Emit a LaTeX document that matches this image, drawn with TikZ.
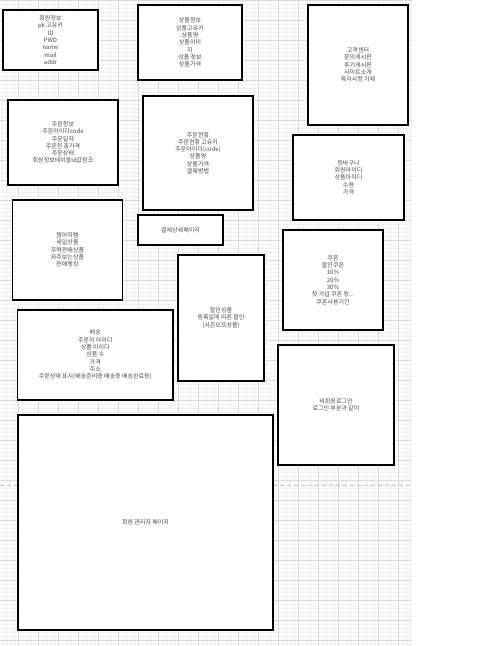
\documentclass[tikz,border=0pt]{standalone}
\usepackage{fontspec}
\setmainfont{Noto Sans CJK KR}
\definecolor{txt}{HTML}{4A4A4A}
\definecolor{gmajor}{HTML}{DADADA}
\definecolor{gminor}{HTML}{F0F0F0}
\definecolor{dashc}{HTML}{C8C8C8}
\tikzset{
  box/.style={draw=black, line width=1.1pt, fill=white, align=center, inner sep=0pt, text=txt, font=\fontsize{6}{7.3}\selectfont},
  minorline/.style={draw=gminor, line width=0.5pt},
  majorline/.style={draw=gmajor, line width=0.7pt},
  pagebreak/.style={draw=dashc, line width=0.8pt, dash pattern=on 4pt off 3pt}
}
\begin{document}
\begin{tikzpicture}[x=1pt,y=-1pt]
\useasboundingbox (0,0) rectangle (487,646);
\fill[white] (0,0) rectangle (487,646);
% grid
\foreach \x in {2,6,...,410} \draw[minorline] (\x,0) -- (\x,646);
\foreach \y in {0,4,...,644} \draw[minorline] (0,\y) -- (412,\y);
\foreach \x in {18,38,...,398} \draw[majorline] (\x,0) -- (\x,646);
\foreach \y in {0,20,...,640} \draw[majorline] (0,\y) -- (412,\y);
\draw[pagebreak] (0,485) -- (412,485);
% boxes
\node[box, minimum width=95pt, minimum height=60pt] (member) at (50.5,40) {회원정보\\pk 고유키\\ID\\PWD\\name\\mail\\addr};
\node[box, minimum width=104pt, minimum height=75pt] (product) at (190,42.5) {상품정보\\상품고유키\\상품명\\상품이미\\지\\상품 정보\\상품가격};
\node[box, minimum width=100pt, minimum height=120pt] (service) at (358,65) {고객센터\\문의게시판\\후기게시판\\사이트소개\\특이사항 기재};
\node[box, minimum width=110pt, minimum height=85pt] (order) at (63,142.5) {주문정보\\주문아이디code\\주문일자\\주문한 총가격\\주문상태\\회원정보테이블id값참조};
\node[box, minimum width=110pt, minimum height=114pt] (status) at (198,153) {주문현황\\주문현황 고유키\\주문아이디(code)\\상품명\\상품가격\\결제방법};
\node[box, minimum width=111pt, minimum height=85pt] (cart) at (348.5,177.5) {장바구니\\회원아이디\\상품아이디\\수량\\가격};
\node[box, minimum width=110pt, minimum height=100pt] (main) at (67.5,250) {찜아이템\\세일상품\\주력판매상품\\자주보는상품\\판매랭킹};
\node[box, minimum width=85pt, minimum height=30pt] (paydetail) at (180.5,230) {결제상세페이지};
\node[box, minimum width=86pt, minimum height=126pt] (sale) at (221,318) {할인상품\\등록일에 따른 할인\\(시즌오프상품)};
\node[box, minimum width=100pt, minimum height=100pt] (coupon) at (333,280) {쿠폰\\할인쿠폰\\10\%\\20\%\\30\%\\첫 가입 쿠폰 등...\\쿠폰사용기간};
\node[box, minimum width=155.5pt, minimum height=90pt] (delivery) at (95.25,355) {배송\\주문자 아이디\\상품 아이디\\상품 수\\가격\\주소\\주문상태 표시(배송준비중 배송중 배송완료등)};
\node[box, minimum width=116pt, minimum height=120pt] (guest) at (336,405) {비회원로그인\\로그인 부분과 같이};
\node[box, minimum width=255pt, minimum height=215pt] (admin) at (145.5,522.5) {회원 관리자 페이지};
\end{tikzpicture}
\end{document}
